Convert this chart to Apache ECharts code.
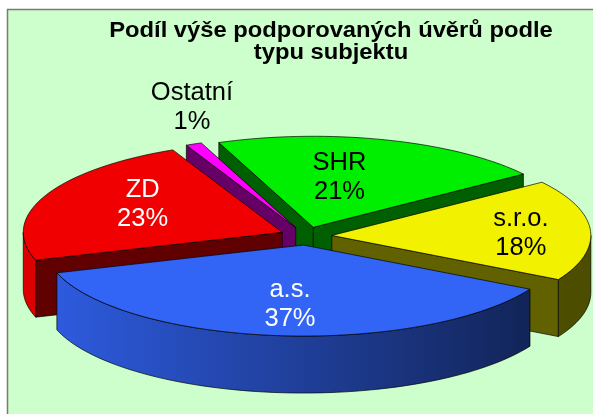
<!DOCTYPE html>
<html>
<head>
<meta charset="utf-8">
<title>Podíl výše podporovaných úvěrů podle typu subjektu</title>
<script src="https://cdn.jsdelivr.net/npm/echarts@6/dist/echarts.min.js"></script>
<style>
    html, body { margin: 0; padding: 0; background: #fff; }
    #chart { width: 593px; height: 414px; }
</style>
</head>
<body>
<div id="chart"></div>
<script>
// podíl podle typu subjektu (%), v pořadí po směru hodinových ručiček od a.s.
var subjekty = ["a.s.", "ZD", "Ostatní", "SHR", "s.r.o."];
var podily = [37, 23, 1, 21, 18];

// barvy horních ploch a popisků
var barvy = ["#3264F5", "#F00000", "#FF00FF", "#00EE00", "#F2F200"];
var barvyPopisku = ["#ffffff", "#ffffff", "#000000", "#000000", "#000000"];
// popisek: [vzdálenost od špičky výseče (v poloměrech), posun úhlu]
var popiskyPoloha = [[0.65, -1], [0.62, 6], [1.38, 6.3], [0.56, -6], [0.73, 2]];

var Pie3D = {
    cx: 306,
    cy: 236,
    rx: 259,
    ry: 91,
    depth: 57,
    explode: 0.1,
    startAngle: 29,
    font: '25.5px "Liberation Sans", Arial, sans-serif',

    rad: function (a) {
        return a * Math.PI / 180;
    },

    shade: function (hex, f) {
        var n = parseInt(hex.slice(1), 16);
        var r = Math.round(((n >> 16) & 255) * f);
        var g = Math.round(((n >> 8) & 255) * f);
        var b = Math.round((n & 255) * f);
        return "rgb(" + r + "," + g + "," + b + ")";
    },

    rim: function (a, dx, dy, z) {
        var t = this.rad(a);
        return [this.cx + dx + this.rx * Math.cos(t), this.cy + dy + this.ry * Math.sin(t) + z];
    },

    arc: function (a, b, dx, dy, z) {
        var pts = [];
        var n = Math.max(2, Math.ceil(Math.abs(b - a) / 2));
        for (var k = 0; k <= n; k++) {
            pts.push(this.rim(a + (b - a) * k / n, dx, dy, z));
        }
        return pts;
    },

    poly: function (pts, fill, z2) {
        return {
            type: "polygon",
            silent: true,
            z2: z2,
            shape: {points: pts},
            style: {fill: fill, stroke: "rgba(0,0,0,0.85)", lineWidth: 0.8, lineJoin: "round"}
        };
    },

    renderItem: function (params, api) {
        var obj = Pie3D;
        var i = params.dataIndex;
        var total = 0, before = 0;
        for (var s = 0; s < podily.length; s++) {
            total += podily[s];
            if (s < i) before += podily[s];
        }
        var a1 = obj.startAngle + 360 * before / total;
        var a2 = a1 + 360 * api.value(0) / total;
        var mid = (a1 + a2) / 2;
        var dx = obj.explode * obj.rx * Math.cos(obj.rad(mid));
        var dy = obj.explode * obj.ry * Math.sin(obj.rad(mid));
        var apex = [obj.cx + dx, obj.cy + dy];
        var h = obj.depth;
        var z = Math.round((Math.sin(obj.rad(mid)) + 1) * 50) * 10;
        var col = barvy[i];
        var dark = obj.shade(col, 0.4);
        var children = [];

        // řezné stěny viditelné zepředu
        var faces = [];
        if (Math.cos(obj.rad(a1)) < 0) faces.push(a1);
        if (Math.cos(obj.rad(a2)) > 0) faces.push(a2);
        for (var f = 0; f < faces.length; f++) {
            var p = obj.rim(faces[f], dx, dy, 0);
            children.push(obj.poly([apex, p, [p[0], p[1] + h], [apex[0], apex[1] + h]], dark, z + 1));
        }

        // vnější plášť (přední polovina)
        var wallFill = new echarts.graphic.LinearGradient(obj.cx - obj.rx, 0, obj.cx + obj.rx, 0, [
            {offset: 0, color: obj.shade(col, 0.92)},
            {offset: 1, color: obj.shade(col, 0.32)}
        ], true);
        for (var k = -1; k <= 1; k++) {
            var lo = Math.max(a1, 360 * k), hi = Math.min(a2, 360 * k + 180);
            if (hi > lo) {
                var top = obj.arc(lo, hi, dx, dy, 0);
                var bottom = obj.arc(hi, lo, dx, dy, h);
                children.push(obj.poly(top.concat(bottom), wallFill, z + 2));
            }
        }

        // horní plocha
        children.push(obj.poly([apex].concat(obj.arc(a1, a2, dx, dy, 0)), col, z + 5));

        // popisek
        var lp = popiskyPoloha[i];
        var la = obj.rad(mid + lp[1]);
        children.push({
            type: "text",
            silent: true,
            z2: 2000,
            x: apex[0] + lp[0] * obj.rx * Math.cos(la),
            y: apex[1] + lp[0] * obj.ry * Math.sin(la),
            style: {
                text: subjekty[i] + "\n" + Math.round(100 * api.value(0) / total) + "%",
                fill: barvyPopisku[i],
                font: obj.font,
                align: "center",
                verticalAlign: "middle",
                lineHeight: 29
            }
        });

        return {type: "group", children: children};
    },

    init: function (id) {
        var e = echarts.init(document.getElementById(id));
        var data = [];
        for (var s in podily) {
            data.push({name: subjekty[s], value: podily[s]});
        }
        e.setOption({
            animation: false,
            backgroundColor: "#ffffff",
            graphic: [
                {
                    type: "rect",
                    silent: true,
                    z: 0,
                    shape: {x: 7.5, y: 9.5, width: 620, height: 440},
                    style: {fill: "#CCFFCC", stroke: "#7a7a7a", lineWidth: 1.5}
                },
                {
                    type: "text",
                    silent: true,
                    z: 1,
                    x: 331,
                    y: 20,
                    scaleX: 1.08,
                    style: {
                        text: "Podíl výše podporovaných úvěrů podle\ntypu subjektu",
                        fill: "#000",
                        font: 'bold 22px "Liberation Sans", Arial, sans-serif',
                        align: "center",
                        verticalAlign: "top",
                        lineHeight: 22
                    }
                }
            ],
            series: [{
                type: "custom",
                coordinateSystem: "none",
                silent: true,
                renderItem: this.renderItem,
                data: data
            }]
        });
        return e;
    }
};

Pie3D.init("chart");
</script>
</body>
</html>
